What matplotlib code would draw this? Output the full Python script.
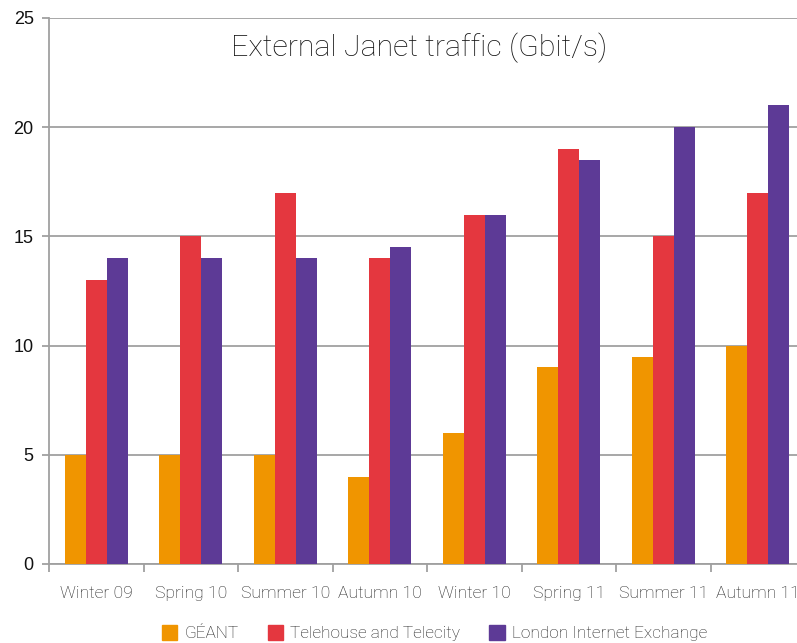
import numpy as np
import matplotlib
matplotlib.use('Agg')
import matplotlib.pyplot as plt
from matplotlib.patches import Patch

# Data
seasons = ['Winter 09', 'Spring 10', 'Summer 10', 'Autumn 10',
           'Winter 10', 'Spring 11', 'Summer 11', 'Autumn 11']
geant = [5, 5, 5, 4, 6, 9, 9.5, 10]
telehouse = [13, 15, 17, 14, 16, 19, 15, 17]
linx = [14, 14, 14, 14.5, 16, 18.5, 20, 21]
series_names = ['GÉANT', 'Telehouse and Telecity', 'London Internet Exchange']
yticks = [0, 5, 10, 15, 20, 25]

COLORS = ['#F09500', '#E4373F', '#5D3A96']
THIN = ['Roboto', 'DejaVu Sans']
WEIGHT = 'light'

fig = plt.figure(figsize=(7.97, 6.43), dpi=100)
ax = fig.add_axes([49/797, 79/643, 756/797, 546/643])

x = np.arange(len(seasons))
w = 0.222
for i, vals in enumerate([geant, telehouse, linx]):
    ax.bar(x + (i - 1) * w, vals, w, color=COLORS[i], edgecolor='none',
           zorder=3)

ax.set_xlim(-0.5, len(seasons) - 0.5)
ax.set_ylim(0, 25)
ax.set_yticks(yticks)
ax.set_yticklabels([str(t) for t in yticks], fontsize=13,
                   family='Liberation Sans', color='#111111')
ax.yaxis.grid(True, color='#a0a0a0', linewidth=1.3, zorder=0)
ax.tick_params(axis='y', length=5, width=1.3, color='#a0a0a0', pad=6)

ax.set_xticks(x)
ax.set_xticklabels(seasons, fontsize=12.6, family=THIN, fontweight=WEIGHT,
                   color='#222222')
ax.set_xticks(np.arange(len(seasons) + 1) - 0.5, minor=True)
ax.tick_params(axis='x', which='major', length=0, pad=16)
ax.tick_params(axis='x', which='minor', length=6, width=1.3, color='#a0a0a0')

for s in ['top', 'right']:
    ax.spines[s].set_visible(False)
for s in ['left', 'bottom']:
    ax.spines[s].set_color('#a0a0a0')
    ax.spines[s].set_linewidth(1.3)

fig.text(0.526, 0.925, 'External Janet traffic (Gbit/s)',
         ha='center', va='center', fontsize=21.9, family=THIN,
         fontweight=WEIGHT, color='#111111')

handles = [Patch(color=c) for c in COLORS]
leg = fig.legend(handles, series_names, loc='center', ncol=3,
                 bbox_to_anchor=(0.545, 0.015), frameon=False,
                 handlelength=0.9, handleheight=0.9, handletextpad=0.4,
                 columnspacing=1.7,
                 prop={'family': THIN, 'size': 12.4, 'weight': WEIGHT})
for t in leg.get_texts():
    t.set_color('#222222')

fig.savefig('out.png', dpi=100)
